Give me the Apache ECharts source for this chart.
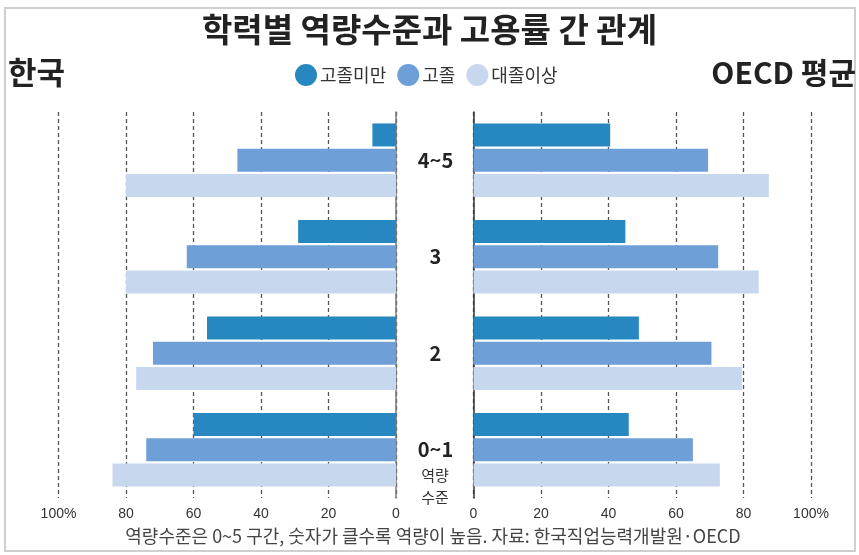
<!DOCTYPE html>
<html>
<head>
<meta charset="utf-8">
<script src="https://cdn.jsdelivr.net/npm/echarts@6/dist/echarts.min.js"></script>
<style>
    html, body { margin: 0; padding: 0; background: #fff; }
    #chart { width: 859px; height: 555px; }
</style>
</head>
<body>
<div id="chart"></div>
<script>
// 역량수준 구간 (위에서 아래로)
const categories = ['4~5', '3', '2', '0~1'];
const seriesNames = ['고졸미만', '고졸', '대졸이상'];
// 한국 고용률 (%)
const koreaBelowHS = [7, 29, 56, 60];
const koreaHS = [47, 62, 72, 74];
const koreaCollege = [80, 80, 77, 84];
// OECD 평균 고용률 (%)
const oecdBelowHS = [40.5, 45, 49, 46];
const oecdHS = [69.5, 72.5, 70.5, 65];
const oecdCollege = [87.5, 84.5, 79.5, 73];

const colors = ['#2787c0', '#6e9fd6', '#c7d8ee'];
const fontFamily = '"Noto Sans CJK KR", "Noto Sans", sans-serif';

const chart = echarts.init(document.getElementById('chart'));

const gridTop = 112;
const gridBottom = 57;

function valueAxis(gridIndex, inverse) {
    return {
        type: 'value',
        gridIndex: gridIndex,
        inverse: inverse,
        min: 0,
        max: 100,
        interval: 20,
        axisLine: { show: false },
        axisTick: { show: false },
        axisLabel: {
            color: '#333',
            fontSize: 14,
            fontFamily: 'Liberation Sans, Arial, sans-serif',
            margin: 9,
            formatter: function (v) {
                return v === 100 ? '100%' : String(v);
            }
        },
        splitLine: {
            lineStyle: { color: '#555', width: 1.3, type: [4, 3] }
        }
    };
}

function barSeries(name, data, idx, axisIndex) {
    return {
        name: name,
        type: 'bar',
        xAxisIndex: axisIndex,
        yAxisIndex: axisIndex,
        data: data,
        barWidth: 23,
        barGap: '10%',
        itemStyle: { color: colors[idx] }
    };
}

const option = {
    animation: false,
    color: colors,
    textStyle: { fontFamily: fontFamily },
    title: {
        text: '학력별 역량수준과 고용률 간 관계',
        left: 'center',
        top: 8,
        textStyle: { fontSize: 33, fontWeight: 'bold', color: '#222', fontFamily: fontFamily }
    },
    legend: {
        data: seriesNames,
        left: 295,
        top: 64,
        padding: 0,
        icon: 'circle',
        itemWidth: 22,
        itemHeight: 22,
        itemGap: 11,
        textStyle: { fontSize: 18, color: '#333', padding: [0, 0, 0, -2] }
    },
    grid: [
        { left: 58.5, right: 463, top: gridTop, bottom: gridBottom },
        { left: 473.5, right: 48, top: gridTop, bottom: gridBottom }
    ],
    xAxis: [valueAxis(0, true), valueAxis(1, false)],
    yAxis: [
        {
            type: 'category',
            gridIndex: 0,
            position: 'right',
            inverse: true,
            data: categories,
            axisLine: { lineStyle: { color: '#777', width: 1.5 } },
            axisTick: { show: false },
            axisLabel: { show: false }
        },
        {
            type: 'category',
            gridIndex: 1,
            position: 'left',
            inverse: true,
            data: categories,
            axisLine: { lineStyle: { color: '#333', width: 1.5 } },
            axisTick: { show: false },
            axisLabel: {
                align: 'center',
                margin: 38,
                fontSize: 20,
                fontWeight: 'bold',
                color: '#222'
            }
        }
    ],
    series: [
        barSeries('고졸미만', koreaBelowHS, 0, 0),
        barSeries('고졸', koreaHS, 1, 0),
        barSeries('대졸이상', koreaCollege, 2, 0),
        barSeries('고졸미만', oecdBelowHS, 0, 1),
        barSeries('고졸', oecdHS, 1, 1),
        barSeries('대졸이상', oecdCollege, 2, 1)
    ],
    graphic: [
        {
            type: 'rect',
            shape: { x: 5, y: 8, width: 850, height: 543 },
            style: { fill: 'none', stroke: '#cfcfcf', lineWidth: 2 },
            silent: true
        },
        {
            type: 'text',
            left: 8,
            top: 57,
            style: { text: '한국', fontSize: 31, fontWeight: 'bold', fill: '#222', fontFamily: fontFamily }
        },
        {
            type: 'text',
            right: 3,
            top: 58,
            style: { text: 'OECD 평균', fontSize: 30, fontWeight: 'bold', fill: '#222', fontFamily: fontFamily }
        },
        {
            type: 'text',
            x: 435,
            y: 475,
            style: { text: '역량', fontSize: 15, fill: '#333', align: 'center', verticalAlign: 'middle', fontFamily: fontFamily }
        },
        {
            type: 'text',
            x: 435,
            y: 497,
            style: { text: '수준', fontSize: 15, fill: '#333', align: 'center', verticalAlign: 'middle', fontFamily: fontFamily }
        },
        {
            type: 'text',
            x: 433,
            y: 536,
            style: {
                text: '역량수준은 0~5 구간, 숫자가 클수록 역량이 높음. 자료: 한국직업능력개발원·OECD',
                fontSize: 18,
                fill: '#444',
                align: 'center',
                verticalAlign: 'middle',
                fontFamily: fontFamily
            }
        }
    ]
};

chart.setOption(option);
</script>
</body>
</html>
